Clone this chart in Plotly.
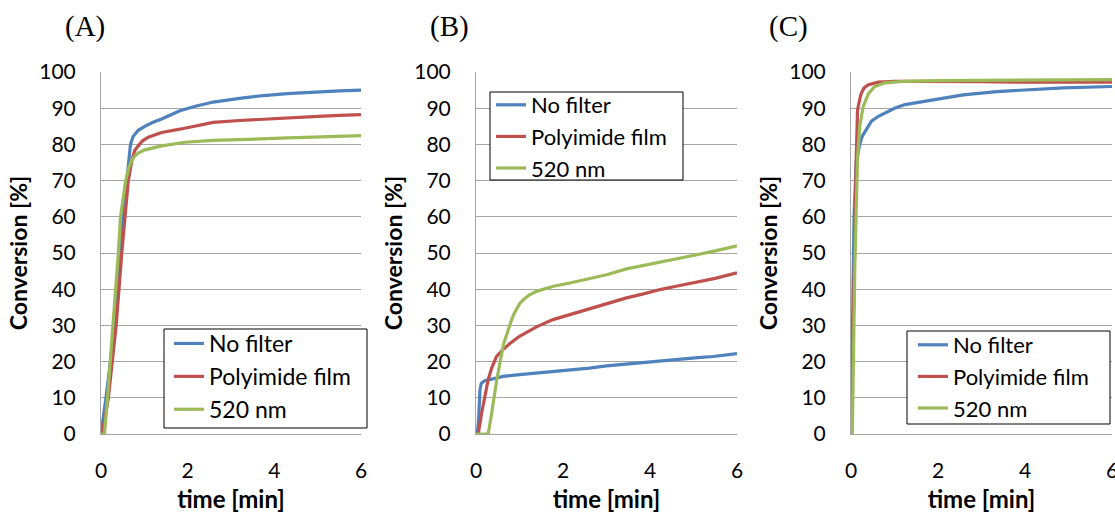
import plotly.graph_objects as go

W, H = 1115, 513

# ---------------- data (time [min], conversion [%]) ----------------
# Panel A
a_blue_t = [0, 0.115, 0.32, 0.46, 0.51, 0.59, 0.68, 0.74, 0.86, 1.01, 1.20, 1.40, 1.82, 2.2, 2.59, 3.2, 3.75, 4.3, 4.9, 5.5, 6.0]
a_blue_y = [0, 10, 30, 50, 60, 70, 80, 82.2, 83.9, 85.0, 86.1, 87.0, 89.3, 90.6, 91.7, 92.7, 93.5, 94.0, 94.5, 94.8, 95.0]
a_red_t = [0, 0.03, 0.17, 0.26, 0.35, 0.48, 0.55, 0.63, 0.72, 0.78, 0.86, 0.96, 1.09, 1.40, 1.82, 2.2, 2.59, 3.2, 3.75, 4.3, 4.9, 5.5, 6.0]
a_red_y = [0, 0, 10, 20, 30, 50, 60, 70, 76, 78.3, 79.6, 81.0, 82.0, 83.3, 84.2, 85.2, 86.1, 86.6, 87.0, 87.4, 87.7, 88.0, 88.2]
a_green_t = [0, 0.08, 0.15, 0.28, 0.40, 0.45, 0.57, 0.64, 0.71, 0.78, 0.86, 1.01, 1.40, 1.94, 2.59, 3.2, 3.75, 4.3, 4.9, 5.5, 6.0]
a_green_y = [0, 0, 10, 30, 50, 60, 70, 73.5, 75.6, 76.8, 77.6, 78.5, 79.6, 80.6, 81.1, 81.3, 81.6, 81.8, 82.0, 82.2, 82.4]

# Panel B
b_blue_t = [0, 0.03, 0.06, 0.09, 0.12, 0.2, 0.3, 0.62, 1.0, 1.39, 1.8, 2.15, 2.61, 3.0, 3.5, 3.92, 4.3, 4.69, 5.1, 5.45, 6.0]
b_blue_y = [0, 0, 4, 12, 14, 14.7, 15.0, 15.9, 16.4, 16.8, 17.3, 17.6, 18.2, 18.8, 19.4, 19.9, 20.3, 20.8, 21.1, 21.4, 22.2]
b_red_t = [0, 0.05, 0.13, 0.2, 0.28, 0.36, 0.47, 0.62, 0.78, 1.0, 1.39, 1.77, 2.16, 2.7, 3.0, 3.46, 3.85, 4.23, 4.6, 4.99, 5.5, 6.0]
b_red_y = [0, 0, 5.8, 10.4, 15, 18.2, 21.4, 23.3, 25, 27, 29.6, 31.6, 33.0, 35.1, 36.0, 37.6, 38.7, 39.9, 40.8, 41.7, 43.0, 44.5]
b_green_t = [0, 0.28, 0.35, 0.475, 0.63, 0.75, 0.82, 0.88, 0.94, 1.01, 1.09, 1.22, 1.39, 1.78, 2.16, 2.58, 3.0, 3.46, 3.85, 4.23, 4.6, 4.99, 5.5, 6.0]
b_green_y = [0, 0, 5, 14.8, 24.7, 29.5, 31.6, 33.4, 34.8, 36.1, 37.1, 38.4, 39.4, 40.8, 41.7, 42.8, 44.0, 45.6, 46.5, 47.4, 48.3, 49.3, 50.6, 52.0]

# Panel C
c_blue_t = [0, 0.03, 0.07, 0.12, 0.2, 0.26, 0.32, 0.47, 0.62, 0.78, 1.0, 1.24, 1.82, 2.58, 3.35, 4.11, 4.88, 6.0]
c_blue_y = [0, 30, 60, 75, 80, 82.3, 83.6, 86.4, 87.7, 88.7, 90.0, 91.0, 92.2, 93.7, 94.6, 95.1, 95.6, 96.0]
c_red_t = [0.01, 0.05, 0.08, 0.12, 0.15, 0.21, 0.24, 0.3, 0.4, 0.63, 1.0, 1.5, 2, 3, 4, 5, 6]
c_red_y = [4, 25, 48, 76, 89.5, 93, 94.2, 95.6, 96.5, 97.2, 97.4, 97.4, 97.3, 97.3, 97.2, 97.2, 97.2]
c_green_t = [0, 0.03, 0.09, 0.15, 0.2, 0.28, 0.4, 0.55, 0.78, 1.2, 2, 3, 4, 5, 6]
c_green_y = [0, 0, 48, 76, 85, 90.4, 94, 96, 97, 97.4, 97.6, 97.7, 97.8, 97.8, 97.9]

series_names = ["No filter", "Polyimide film", "520 nm"]
colors = ["#4F81BD", "#C0504D", "#9BBB59"]
x_ticks = [0, 2, 4, 6]
y_ticks = list(range(0, 101, 10))
panel_labels = ["(A)", "(B)", "(C)"]

panels = [
    [(a_blue_t, a_blue_y), (a_red_t, a_red_y), (a_green_t, a_green_y)],
    [(b_blue_t, b_blue_y), (b_red_t, b_red_y), (b_green_t, b_green_y)],
    [(c_blue_t, c_blue_y), (c_red_t, c_red_y), (c_green_t, c_green_y)],
]

# ---------------- layout geometry (pixels) ----------------
x_px = [(101, 361), (476, 737), (851, 1112)]
y_px = (72, 434)
legend_box = [(164, 329, 367, 428), (490, 92, 683, 180), (907, 331, 1110, 424)]
legend_pos = [(169, 322), (491, 84), (913, 324)]
legend_font = [23, 22, 22]
label_px = [(85, 27), (449, 27), (788, 27)]

FONT = "Lato, 'Open Sans', sans-serif"
GRID = "#A6A6A6"

fig = go.Figure()
layout = dict(
    width=W, height=H,
    margin=dict(l=0, r=0, t=0, b=0, autoexpand=False),
    paper_bgcolor="white", plot_bgcolor="white",
    font=dict(family=FONT, size=21, color="black"),
    showlegend=True,
    annotations=[], shapes=[],
)

for i, panel in enumerate(panels):
    sfx = "" if i == 0 else str(i + 1)
    leg = "legend" if i == 0 else f"legend{i + 1}"
    for j, (t, y) in enumerate(panel):
        fig.add_trace(go.Scatter(
            x=t, y=y, mode="lines", name=series_names[j],
            line=dict(color=colors[j], width=3.2),
            xaxis="x" + sfx, yaxis="y" + sfx,
            legend=leg, legendgroup=f"g{i}{j}",
        ))
    x0, x1 = x_px[i]
    layout["xaxis" + sfx] = dict(
        domain=[x0 / W, x1 / W], anchor="y" + sfx, automargin=False,
        range=[0, 6], tickvals=x_ticks, showgrid=False, zeroline=False,
        showline=True, linecolor=GRID, linewidth=1, ticks="",
        ticklabelstandoff=18, ticklabeloverflow="allow",
        title=dict(text="<b>time [min]</b>", font=dict(size=24), standoff=19),
    )
    layout["yaxis" + sfx] = dict(
        domain=[1 - y_px[1] / H, 1 - y_px[0] / H], anchor="x" + sfx,
        automargin=False,
        range=[0, 100], tickvals=y_ticks, showgrid=True, gridcolor=GRID,
        gridwidth=1, zeroline=False, showline=True, linecolor=GRID,
        linewidth=1, ticks="", ticklabelstandoff=20,
        title=dict(text="<b>Conversion [%]</b>", font=dict(size=23), standoff=5),
    )
    bx0, by0, bx1, by1 = legend_box[i]
    layout["shapes"].append(dict(
        type="rect", xref="paper", yref="paper", layer="above",
        x0=bx0 / W, x1=bx1 / W, y0=1 - by1 / H, y1=1 - by0 / H,
        fillcolor="white", line=dict(color="black", width=1),
    ))
    lx, ly = legend_pos[i]
    layout[leg] = dict(
        x=lx / W, y=1 - ly / H, xanchor="left", yanchor="top",
        bgcolor="rgba(0,0,0,0)", borderwidth=0,
        font=dict(family=FONT, size=legend_font[i], color="black"),
        traceorder="grouped", tracegroupgap=0,
    )
    px, py = label_px[i]
    layout["annotations"].append(dict(
        text=panel_labels[i], x=px / W, y=1 - py / H, xref="paper", yref="paper",
        showarrow=False, xanchor="center", yanchor="middle",
        font=dict(family="'Liberation Serif', 'Times New Roman', serif", size=29, color="black"),
    ))

fig.update_layout(**layout)
fig.write_html("out.html")
